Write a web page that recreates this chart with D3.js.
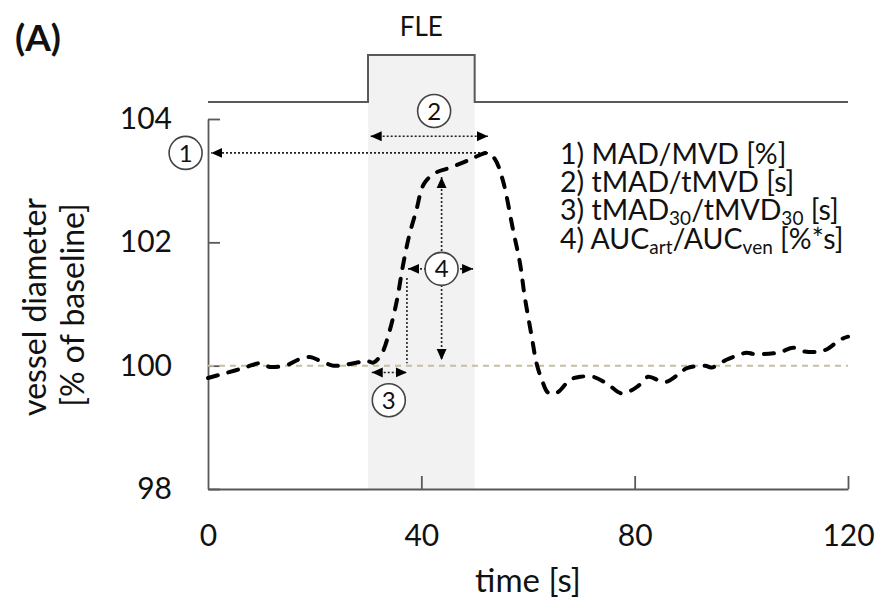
<!DOCTYPE html>
<html>
<head>
<meta charset="utf-8">
<script src="https://cdn.jsdelivr.net/npm/d3@7"></script>
<style>
  body { margin: 0; background: #fff; }
  svg { font-family: "Lato", sans-serif; }
  .axis path, .axis line { stroke: #595959; stroke-width: 1.8; }
  .axis text { font-family: "Lato", sans-serif; font-size: 30px; fill: #111; }
</style>
</head>
<body>
<div id="chart" style="width:878px;height:612px;"><svg width="878" height="612"></svg></div>
<script>
// ---- data ----
const time = [0, 2.5, 5.4, 7.3, 9.8, 11.6, 14.8, 17, 19.1, 21, 23.5, 25.4, 28.5, 29.8, 31,
  32.6, 34, 35.4, 36.5, 37.7, 39, 40.5, 42.5, 45, 48, 50, 52.5, 53.8, 55.3, 57.2,
  58.5, 59.4, 60.7, 61.6, 62.6, 63.8, 65.4, 67.9, 69.8, 72.2, 74.8, 77.6, 80.5, 82.5, 84.8,
  86, 88.5, 89.8, 93.2, 94.4, 97.3, 99.1, 101, 102.3, 106, 107.6, 109.7, 111.9, 114.8, 116.3,
  118.5, 120];
const diameter = [99.8, 99.86, 99.93, 99.98, 100.04, 99.98, 100.01, 100.1, 100.14, 100.08, 100.0, 100.01, 100.06, 100.08, 100.05,
  100.2, 100.55, 101.05, 101.6, 102.1, 102.5, 102.95, 103.12, 103.2, 103.3, 103.38, 103.45, 103.35, 103.0, 102.2,
  101.66, 101.11, 100.47, 100.04, 99.77, 99.56, 99.56, 99.77, 99.82, 99.82, 99.71, 99.55, 99.66, 99.82, 99.75,
  99.74, 99.88, 99.96, 100.0, 99.97, 100.1, 100.16, 100.21, 100.19, 100.2, 100.23, 100.29, 100.23, 100.23, 100.28,
  100.42, 100.47];

const xTicks = [0, 40, 80, 120];
const yTicks = [98, 100, 102, 104];

// FLE stimulus trace (off / on)
const stimTime = [0, 30, 30, 50, 50, 120];
const stimLevel = [0, 0, 1, 1, 0, 0];
const fleWindow = [30, 50];

const baselineValue = 100;

// annotation arrows in data units: [t1, v1, t2, v2, startHead, endHead]
const arrows = [
  [52.5, 103.45, 0.6, 103.45, false, true],   // 1) MAD
  [30.5, 103.72, 52.5, 103.72, true, true],   // 2) tMAD
  [30.7, 99.89, 37.3, 99.89, true, true],     // 3) tMAD30
  [37.3, 101.42, 37.3, 100.04, false, false], // tMAD30 marker
  [37.5, 101.57, 49.7, 101.57, true, true],   // 4) AUC width
  [43.8, 103.06, 43.8, 100.09, true, true]    // 4) AUC height
];
// numbered circles: [label, t, v]
const badges = [
  ["1", -4.2, 103.45],
  ["2", 42.4, 104.13],
  ["3", 33.9, 99.44],
  ["4", 43.8, 101.57]
];

const legendLines = [
  [["1) MAD/MVD [%]"]],
  [["2) tMAD/tMVD [s]"]],
  [["3) tMAD"], ["30", "sub"], ["/tMVD"], ["30", "sub"], [" [s]"]],
  [["4) AUC"], ["art", "sub"], ["/AUC"], ["ven", "sub"], [" [%*s]"]]
];

/********** SETUP **********/
const svg = d3.select("#chart").select("svg");
const margin = {top: 119, left: 208, right: 30, bottom: 123};
const width = 878, height = 612;

const xScale = d3.scaleLinear().domain([0, 120]).range([margin.left, width - margin.right]);
const yScale = d3.scaleLinear().domain([98, 104]).range([height - margin.bottom, margin.top]);
const stimY = d3.scaleLinear().domain([0, 1]).range([102, 55]);

/********** FLE SHADE **********/
svg.append("rect")
  .attr("x", xScale(fleWindow[0]))
  .attr("y", stimY(1))
  .attr("width", xScale(fleWindow[1]) - xScale(fleWindow[0]))
  .attr("height", yScale(98) - stimY(1))
  .attr("fill", "#f2f2f2");

/********** AXES **********/
svg.append("g")
  .attr("class", "axis")
  .attr("transform", `translate(${margin.left},0)`)
  .call(d3.axisLeft(yScale).tickValues(yTicks).tickFormat(d3.format("d"))
    .tickSizeInner(-12).tickSizeOuter(0).tickPadding(36));

const xAxis = svg.append("g")
  .attr("class", "axis")
  .attr("transform", `translate(0,${yScale(98)})`)
  .call(d3.axisBottom(xScale).tickValues(xTicks).tickSizeInner(-13).tickSizeOuter(0).tickPadding(36));

// no tick mark at the origin
xAxis.selectAll(".tick").filter(d => d === 0).select("line").remove();

// stimulus trace
svg.append("path")
  .datum(d3.zip(stimTime, stimLevel))
  .attr("fill", "none")
  .attr("stroke", "#595959")
  .attr("stroke-width", 2)
  .attr("d", d3.line().x(d => xScale(d[0])).y(d => stimY(d[1])));

svg.append("text")
  .attr("x", xScale(d3.mean(fleWindow)))
  .attr("y", 36)
  .attr("text-anchor", "middle")
  .attr("font-size", 26)
  .attr("fill", "#111")
  .text("FLE");

// baseline at 100 %
svg.append("line")
  .attr("x1", xScale(0)).attr("x2", xScale(120))
  .attr("y1", yScale(baselineValue)).attr("y2", yScale(baselineValue))
  .attr("stroke", "#c8bf9f")
  .attr("stroke-width", 2)
  .attr("stroke-dasharray", "6,5");

/********** ANNOTATIONS **********/
const defs = svg.append("defs");
defs.append("marker")
  .attr("id", "head")
  .attr("viewBox", "0 -5 10 10")
  .attr("refX", 10).attr("refY", 0)
  .attr("markerUnits", "userSpaceOnUse")
  .attr("markerWidth", 11).attr("markerHeight", 11)
  .attr("orient", "auto-start-reverse")
  .append("path")
  .attr("d", "M0,-4.5L10,0L0,4.5Z")
  .attr("fill", "#000");

svg.append("g").selectAll("line")
  .data(arrows)
  .join("line")
  .attr("x1", d => xScale(d[0])).attr("y1", d => yScale(d[1]))
  .attr("x2", d => xScale(d[2])).attr("y2", d => yScale(d[3]))
  .attr("stroke", "#222")
  .attr("stroke-width", 1.6)
  .attr("stroke-dasharray", "2,2")
  .attr("marker-start", d => d[4] ? "url(#head)" : null)
  .attr("marker-end", d => d[5] ? "url(#head)" : null);

/********** DATA LINE **********/
svg.append("path")
  .datum(d3.zip(time, diameter))
  .attr("fill", "none")
  .attr("stroke", "#000")
  .attr("stroke-width", 4)
  .attr("stroke-linecap", "round")
  .attr("stroke-dasharray", "10,11")
  .attr("d", d3.line().curve(d3.curveCatmullRom).x(d => xScale(d[0])).y(d => yScale(d[1])));

const badge = svg.append("g").selectAll("g")
  .data(badges)
  .join("g")
  .attr("transform", d => `translate(${xScale(d[1])},${yScale(d[2])})`);
badge.append("circle")
  .attr("r", 16.5)
  .attr("fill", "#fff")
  .attr("stroke", "#444")
  .attr("stroke-width", 1.6);
badge.append("text")
  .attr("text-anchor", "middle")
  .attr("dy", "0.36em")
  .attr("font-size", 24)
  .attr("fill", "#111")
  .text(d => d[0]);

/********** LEGEND **********/
const legend = svg.append("g").attr("font-size", 28.5).attr("fill", "#111");
legendLines.forEach((parts, i) => {
  const t = legend.append("text")
    .attr("x", 560)
    .attr("y", 164 + i * 28.2);
  parts.forEach(p => {
    const span = t.append("tspan").text(p[0]);
    if (p[1] === "sub") span.attr("font-size", 19).attr("baseline-shift", "-25%");
  });
});

/********** TITLES **********/
svg.append("text")
  .attr("x", xScale(60))
  .attr("y", 592)
  .attr("text-anchor", "middle")
  .attr("font-size", 33)
  .attr("fill", "#111")
  .text("time [s]");

svg.append("text")
  .attr("transform", "translate(46,307) rotate(-90)")
  .attr("text-anchor", "middle")
  .attr("font-size", 32)
  .attr("fill", "#111")
  .text("vessel diameter");

svg.append("text")
  .attr("transform", "translate(84,305) rotate(-90)")
  .attr("text-anchor", "middle")
  .attr("font-size", 32)
  .attr("fill", "#111")
  .text("[% of baseline]");

svg.append("text")
  .attr("x", 15)
  .attr("y", 51)
  .attr("font-size", 37)
  .attr("font-weight", "bold")
  .attr("fill", "#111")
  .text("(A)");
</script>
</body>
</html>
